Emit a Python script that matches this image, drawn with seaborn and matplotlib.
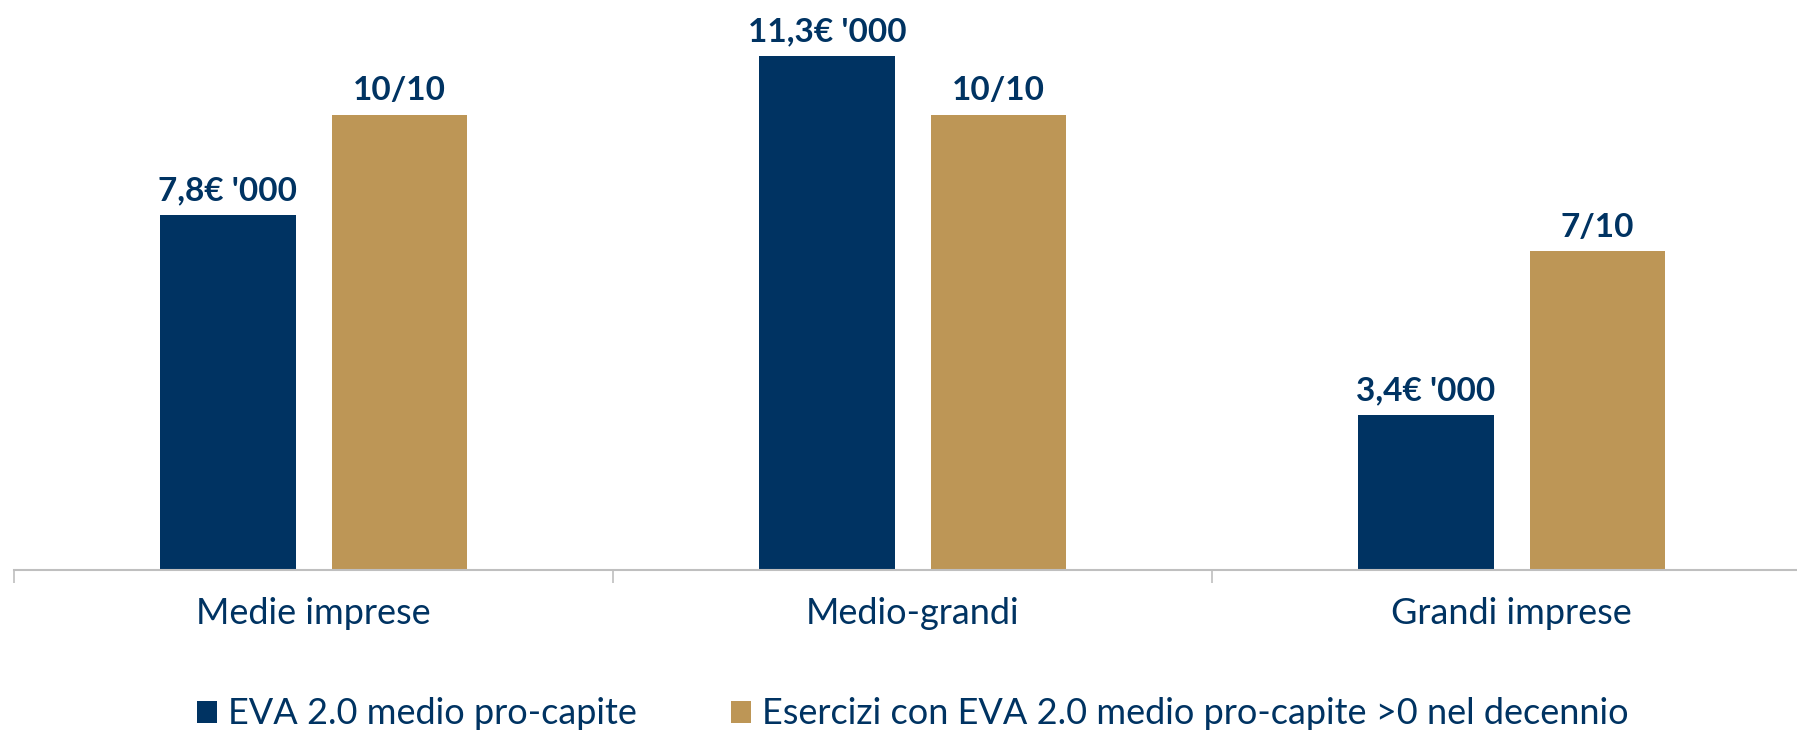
import pandas as pd
import matplotlib.pyplot as plt
import seaborn as sns

# data
categories = ['Medie imprese', 'Medio-grandi', 'Grandi imprese']
eva_pro_capite = [7.8, 11.3, 3.4]          # € '000
esercizi_positivi = [10, 10, 7]            # years out of 10
series_names = ['EVA 2.0 medio pro-capite',
                'Esercizi con EVA 2.0 medio pro-capite >0 nel decennio']

navy = '#003362'
gold = '#BD9656'
grey = '#BFBFBF'

df = pd.DataFrame({
    'Categoria': categories * 2,
    'Valore': eva_pro_capite + esercizi_positivi,
    'Serie': [series_names[0]] * 3 + [series_names[1]] * 3,
})

sns.set_style('white')
plt.rcParams['font.family'] = ['Lato', 'DejaVu Sans']

fig = plt.figure(figsize=(17.97, 7.33), dpi=100)
# plot area runs slightly past the right edge, as in the original
ax = fig.add_axes([0.0078, 0.2224, 1.0, 0.745])

sns.barplot(data=df, x='Categoria', y='Valore', hue='Serie',
            palette=[navy, gold], saturation=1, width=0.572, gap=0.21,
            edgecolor='none', ax=ax)

ax.set_xlim(-0.5, 2.5)
ax.set_ylim(0, 12)
ax.set_xlabel('')
ax.set_ylabel('')
ax.set_yticks([])

# value labels on top of the bars
eva_labels = [f"{v:.1f}".replace('.', ',') + "€ '000" for v in eva_pro_capite]
es_labels = [f"{v}/10" for v in esercizi_positivi]
ax.bar_label(ax.containers[0], labels=eva_labels, padding=7,
             fontsize=24, fontweight='bold', color=navy)
ax.bar_label(ax.containers[1], labels=es_labels, padding=7,
             fontsize=24, fontweight='bold', color=navy)

# axes styling
sns.despine(ax=ax, left=True, right=True, top=True)
ax.spines['bottom'].set_color(grey)
ax.spines['bottom'].set_linewidth(1.5)
ax.tick_params(axis='x', which='major', bottom=False, length=0, pad=19.5,
               labelsize=26, labelcolor=navy)
ax.set_xticks([-0.5, 0.5, 1.5, 2.5], minor=True)
ax.tick_params(axis='x', which='minor', bottom=True, length=9, width=1.2,
               color=grey, direction='out')

# legend along the bottom
handles, labels = ax.get_legend_handles_labels()
ax.legend_.remove()
fig.legend(handles, labels, loc='center', bbox_to_anchor=(0.508, 0.026),
           ncol=2, frameon=False, fontsize=26, labelcolor=navy,
           handlelength=0.55, handleheight=0.55, handletextpad=0.32,
           columnspacing=2.6)

plt.savefig('out.png', dpi=100)
